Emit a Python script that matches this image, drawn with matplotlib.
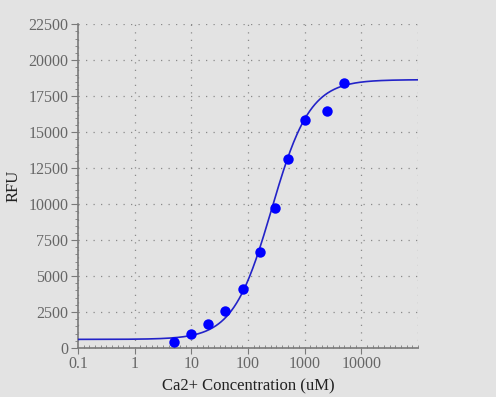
import numpy as np
import matplotlib
matplotlib.use("Agg")
import matplotlib.pyplot as plt
from matplotlib.ticker import FixedLocator, NullFormatter

# measured points
conc = [5, 10, 20, 40, 80, 160, 300, 500, 1000, 2500, 5000]
rfu = [390, 990, 1660, 2590, 4080, 6690, 9750, 13110, 15870, 16490, 18420]

# fitted 4PL curve parameters
fit_bottom = 600
fit_top = 18650
fit_ec50 = 260
fit_hill = 1.28

x_ticks = [0.1, 1, 10, 100, 1000, 10000]
x_tick_labels = ["0.1", "1", "10", "100", "1000", "10000"]
y_ticks = [0, 2500, 5000, 7500, 10000, 12500, 15000, 17500, 20000, 22500]

bg = "#e3e3e3"
grid_style = dict(color="#8a8a8a", linestyle=(0, (1, 5)), lw=0.9)
plt.rcParams['font.family'] = ['Liberation Serif', 'DejaVu Serif']

fig = plt.figure(figsize=(4.96, 3.97), dpi=100, facecolor=bg)
ax = fig.add_axes([0.157, 0.1234, 0.686, 0.8154], facecolor=bg)

xs = np.logspace(-1, 5, 400)
ys = fit_bottom + (fit_top - fit_bottom) / (1 + (fit_ec50 / xs) ** fit_hill)
ax.plot(xs, ys, color="#2323c8", lw=1.2, zorder=3)
ax.plot(conc, rfu, "o", color="#0000ff", ms=7.5, mec="none", zorder=4)

ax.set_xscale("log")
ax.set_xlim(0.1, 100000)
ax.set_ylim(0, 22500)

ax.set_xticks(x_ticks)
ax.set_xticklabels(x_tick_labels)
ax.xaxis.set_minor_locator(FixedLocator(np.logspace(-1, 5, 61)))
ax.xaxis.set_minor_formatter(NullFormatter())
ax.set_yticks(y_ticks)
ax.yaxis.set_minor_locator(FixedLocator(np.arange(0, 22501, 500)))

ax.grid(True, which="major", **grid_style)
# right edge grid line (no tick there)
ax.axvline(100000, **grid_style)

for s in ["top", "right"]:
    ax.spines[s].set_visible(False)
for s in ["left", "bottom"]:
    ax.spines[s].set_color("#7a7a7a")
    ax.spines[s].set_linewidth(1.2)

ax.tick_params(axis="y", which="major", length=5, color="#7a7a7a", labelsize=11.5, labelcolor="#666666", pad=2)
ax.tick_params(axis="x", which="major", length=4, color="#7a7a7a", labelsize=11.5, labelcolor="#666666", pad=2)
ax.tick_params(axis="x", which="minor", length=2, direction="in", color="#7a7a7a")
ax.tick_params(axis="y", which="minor", length=2, direction="out", color="#7a7a7a")

ax.set_xlabel("Ca2+ Concentration (uM)", fontsize=12, color="#222222", labelpad=4)
ax.set_ylabel("RFU", fontsize=12, color="#222222", labelpad=5)

fig.savefig("out.png", dpi=100, facecolor=bg)
